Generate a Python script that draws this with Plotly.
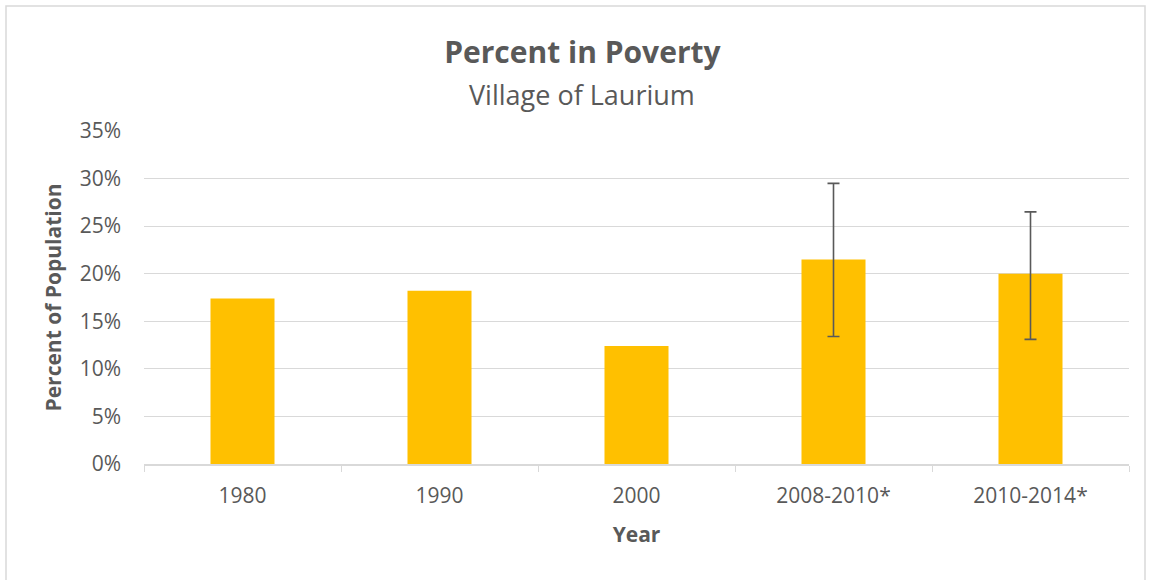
import plotly.graph_objects as go

years = ['1980', '1990', '2000', '2008-2010*', '2010-2014*']
poverty = [0.174, 0.182, 0.124, 0.215, 0.200]

# margins of error only exist for the ACS estimates
moe_years = ['2008-2010*', '2010-2014*']
moe_vals = [0.215, 0.200]
moe_plus = [0.080, 0.065]
moe_minus = [0.081, 0.069]

grey = '#595959'
font_name = 'Open Sans'

fig = go.Figure()
fig.add_trace(go.Bar(x=years, y=poverty, marker_color='#FFC000',
                     marker_line_width=0, width=0.325, showlegend=False))
fig.add_trace(go.Scatter(x=moe_years, y=moe_vals, mode='markers',
                         marker=dict(size=1, opacity=0), showlegend=False,
                         error_y=dict(type='data', symmetric=False, array=moe_plus,
                                      arrayminus=moe_minus, color=grey,
                                      thickness=1.6, width=6)))

fig.update_layout(
    width=1151, height=580,
    margin=dict(l=144, r=22, t=131, b=116),
    paper_bgcolor='white', plot_bgcolor='white',
    font=dict(family=font_name, color=grey, size=21),
    title=dict(text='<b>Percent in Poverty</b>', x=0.506, xanchor='center',
               y=0.91, yanchor='middle', font=dict(size=30, color=grey)),
    bargap=0.675,
)
fig.add_annotation(text='Village of Laurium', xref='paper', yref='paper',
                   x=0.4447, y=1.0, yshift=37, showarrow=False,
                   font=dict(size=27, color=grey), xanchor='center', yanchor='middle')

fig.update_xaxes(title=dict(text='<b>Year</b>', font=dict(size=21), standoff=19),
                 showline=True, linecolor='#d9d9d9', linewidth=1.5,
                 ticks='outside', tickson='boundaries', ticklen=6, tickcolor='#d9d9d9',
                 ticklabelstandoff=12, showgrid=False, tickfont=dict(size=21))
fig.update_yaxes(title=dict(text='<b>Percent of Population</b>', font=dict(size=21), standoff=12),
                 range=[0, 0.35], dtick=0.05, tickformat='.0%',
                 showgrid=True, gridcolor='#d9d9d9', gridwidth=1.2,
                 zeroline=False, showline=False, tickfont=dict(size=21), ticks='',
                 ticklabelstandoff=22)

# thin frame around the chart area like the spreadsheet export
fig.add_shape(type='rect', xref='paper', yref='paper',
              x0=-138 / 985, x1=1001 / 985, y0=-120 / 333, y1=1 + 125 / 333,
              line=dict(color='#d9d9d9', width=1.5), fillcolor='rgba(0,0,0,0)')

# page has a default 8px body margin, drop it so the figure sits at 0,0
fig.write_html('out.html', config={'displayModeBar': False},
               post_script="document.body.style.margin='0';")
